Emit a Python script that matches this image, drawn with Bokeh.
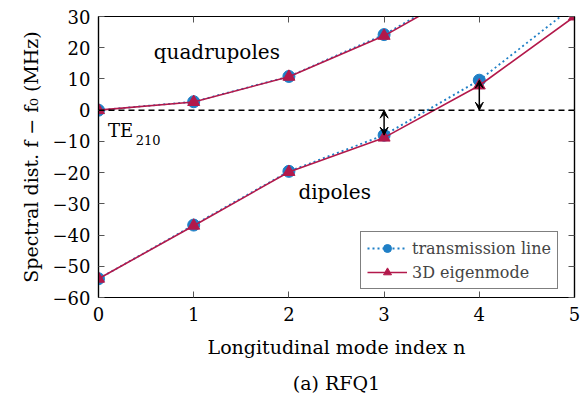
from bokeh.plotting import figure
from bokeh.models import (LinearAxis, Range1d, Arrow, VeeHead, Label, Span,
                          Title, FixedTicker, Legend)
from bokeh.embed import file_html
from bokeh.resources import INLINE

# ---- data ----
n_quad = [0, 1, 2, 3, 4]
quad_tl = [0.0, 2.7, 10.8, 24.2, 41.5]
quad_3d = [0.0, 2.6, 10.7, 23.8, 41.0]
n_dip = [0, 1, 2, 3, 4, 5]
dip_tl = [-54.0, -36.8, -19.6, -8.0, 9.6, 33.5]
dip_3d = [-54.0, -37.0, -19.8, -8.8, 7.9, 30.0]
arrow_n = [3, 4]
arrow_top = [dip_tl[3], dip_tl[4]]
x_ticks = [0, 1, 2, 3, 4, 5]
y_ticks = [-60, -50, -40, -30, -20, -10, 0, 10, 20, 30]

BLUE = "#1f7fc6"
RED = "#b3194b"
FONT = "DejaVu Serif"

p = figure(width=584, height=402, output_backend="svg", toolbar_location=None,
           x_range=Range1d(0, 5), y_range=Range1d(-60, 30),
           min_border_left=98, min_border_right=10, min_border_top=16,
           min_border_bottom=104, x_axis_location=None, y_axis_location=None)
p.xgrid.visible = False
p.ygrid.visible = False
p.outline_line_color = "black"
p.outline_line_width = 1.2
p.background_fill_color = "white"
p.border_fill_color = "white"


def style_axis(ax, labels=True):
    ax.major_tick_in = 6
    ax.major_tick_out = 0
    ax.minor_tick_in = 0
    ax.minor_tick_out = 0
    ax.axis_line_color = "black"
    ax.axis_line_width = 1.2
    ax.major_tick_line_color = "#555555"
    ax.major_label_text_font = FONT
    ax.major_label_text_font_size = "18px"
    ax.major_label_text_color = "black" if labels else None
    ax.axis_label_text_font = FONT
    ax.axis_label_text_font_size = "19px"
    ax.axis_label_text_font_style = "normal"
    ax.axis_label_text_color = "black"


xb = LinearAxis(ticker=FixedTicker(ticks=x_ticks), axis_label="Longitudinal mode index n")
style_axis(xb)
xb.major_label_standoff = 9
xb.axis_label_standoff = 12
p.add_layout(xb, "below")

yl = LinearAxis(ticker=FixedTicker(ticks=y_ticks), axis_label="Spectral dist. f − f₀ (MHz)")
style_axis(yl)
yl.major_label_standoff = 8
yl.axis_label_standoff = 8
yl.major_label_overrides = {t: ("−" + str(-t) if t < 0 else str(t)) for t in y_ticks}
p.add_layout(yl, "left")

xt = LinearAxis(ticker=FixedTicker(ticks=x_ticks))
style_axis(xt, labels=False)
p.add_layout(xt, "above")
yr = LinearAxis(ticker=FixedTicker(ticks=y_ticks))
style_axis(yr, labels=False)
p.add_layout(yr, "right")

cap = Title(text="(a) RFQ1", align="center", text_font=FONT, text_font_size="19px",
            text_font_style="normal", text_color="black", standoff=18)
p.add_layout(cap, "below")

# zero line
p.add_layout(Span(location=0, dimension="width", line_color="black",
                  line_dash="6 4", line_width=1.5))

# series
r1 = p.line(n_quad, quad_tl, line_color=BLUE, line_dash="2 3", line_width=1.8)
r2 = p.scatter(n_quad, quad_tl, marker="circle", size=12, fill_color=BLUE, line_color=BLUE)
r3 = p.line(n_dip, dip_tl, line_color=BLUE, line_dash="2 3", line_width=1.8)
r4 = p.scatter(n_dip, dip_tl, marker="circle", size=12, fill_color=BLUE, line_color=BLUE)
r5 = p.line(n_quad, quad_3d, line_color=RED, line_width=1.6)
r6 = p.scatter(n_quad, quad_3d, marker="triangle", size=12, fill_color=RED, line_color=RED)
r7 = p.line(n_dip, dip_3d, line_color=RED, line_width=1.6)
r8 = p.scatter(n_dip, dip_3d, marker="triangle", size=12, fill_color=RED, line_color=RED)

# arrows
for xa, ya in zip(arrow_n, arrow_top):
    p.add_layout(Arrow(x_start=xa, y_start=0, x_end=xa, y_end=ya, line_width=1.5,
                       line_color="black",
                       start=VeeHead(size=8, fill_color="black", line_color="black"),
                       end=VeeHead(size=8, fill_color="black", line_color="black")))

# annotations
p.add_layout(Label(x=0.58, y=14.8, text="quadrupoles", text_font=FONT,
                   text_font_size="20px", text_color="black"))
p.add_layout(Label(x=2.10, y=-30.0, text="dipoles", text_font=FONT,
                   text_font_size="20px", text_color="black"))
p.add_layout(Label(x=0.10, y=-9.8, text="TE", text_font=FONT,
                   text_font_size="18px", text_color="black"))
p.add_layout(Label(x=0.39, y=-11.0, text="210", text_font=FONT,
                   text_font_size="13px", text_color="black"))

legend = Legend(items=[("transmission line", [r1, r2]), ("3D eigenmode", [r5, r6])],
                location=(262, 8), label_text_font=FONT, label_text_font_size="16px",
                border_line_color="black", border_line_width=1.2, background_fill_alpha=1,
                glyph_width=40, glyph_height=20, label_height=20, spacing=4,
                padding=6, margin=0, label_standoff=5)
p.add_layout(legend, "center")

open("out.html", "w").write(file_html(p, INLINE))
